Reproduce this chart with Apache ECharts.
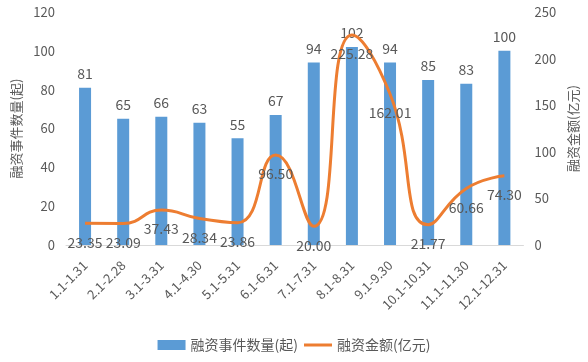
<!DOCTYPE html>
<html><head><meta charset="utf-8">
<script src="https://cdn.jsdelivr.net/npm/echarts@6/dist/echarts.min.js"></script>
<style>html,body{margin:0;padding:0;background:#fff}#c{width:588px;height:362px}</style>
</head><body><div id="c"></div>
<script>
var categories = ['1.1-1.31','2.1-2.28','3.1-3.31','4.1-4.30','5.1-5.31','6.1-6.31','7.1-7.31','8.1-8.31','9.1-9.30','10.1-10.31','11.1-11.30','12.1-12.31'];
var eventCounts = [81, 65, 66, 63, 55, 67, 94, 102, 94, 85, 83, 100];
var amounts = [23.35, 23.09, 37.43, 28.34, 23.86, 96.50, 20.00, 225.28, 162.01, 21.77, 60.66, 74.30];
var leftTicks = {min: 0, max: 120, interval: 20};
var rightTicks = {min: 0, max: 250, interval: 50};

var F = '"Noto Sans CJK SC", sans-serif';
var chart = echarts.init(document.getElementById('c'), null, {renderer: 'canvas'});
chart.setOption({
  animation: false,
  textStyle: {fontFamily: F},
  grid: {left: 66, right: 61, top: 12, bottom: 117},
  legend: {
    bottom: 5, left: 'center', itemWidth: 28, itemHeight: 10, itemGap: 6,
    textStyle: {color: '#595959', fontSize: 14, fontFamily: F},
    data: [{name: '融资事件数量(起)', icon: 'rect'}, {name: '融资金额(亿元)', icon: 'path://M0,0L28,0L28,3L0,3Z'}]
  },
  xAxis: {
    type: 'category', data: categories,
    axisLine: {lineStyle: {color: '#D9D9D9'}},
    axisTick: {show: false},
    axisLabel: {rotate: 45, color: '#595959', fontSize: 13, fontFamily: F, interval: 0, margin: 18}
  },
  yAxis: [{
    type: 'value', min: leftTicks.min, max: leftTicks.max, interval: leftTicks.interval,
    name: '融资事件数量(起)', nameLocation: 'middle', nameGap: 41, nameRotate: 90,
    nameTextStyle: {color: '#595959', fontSize: 13, fontFamily: F},
    splitLine: {show: false}, axisLine: {show: false}, axisTick: {show: false},
    axisLabel: {color: '#595959', fontSize: 13, fontFamily: F, margin: 11}
  }, {
    type: 'value', min: rightTicks.min, max: rightTicks.max, interval: rightTicks.interval,
    name: '融资金额(亿元)', nameLocation: 'middle', nameGap: 40, nameRotate: 90,
    nameTextStyle: {color: '#595959', fontSize: 13, fontFamily: F},
    splitLine: {show: false}, axisLine: {show: false}, axisTick: {show: false},
    axisLabel: {color: '#595959', fontSize: 13, fontFamily: F, margin: 11}
  }],
  series: [{
    name: '融资事件数量(起)', type: 'bar', data: eventCounts, yAxisIndex: 0,
    barWidth: 12, itemStyle: {color: '#5B9BD5'},
    label: {show: true, position: 'top', color: '#595959', fontSize: 14, fontFamily: F, distance: 7}
  }, {
    name: '融资金额(亿元)', type: 'line', data: amounts, yAxisIndex: 1,
    smooth: 0.5, symbol: 'circle', symbolSize: 0.1, showSymbol: true,
    lineStyle: {color: '#ED7D31', width: 3}, itemStyle: {color: '#ED7D31'},
    label: {show: true, position: 'bottom', color: '#595959', fontSize: 14, fontFamily: F, distance: 12,
      formatter: function(p){ return p.value.toFixed(2); }}
  }]
});
</script></body></html>
